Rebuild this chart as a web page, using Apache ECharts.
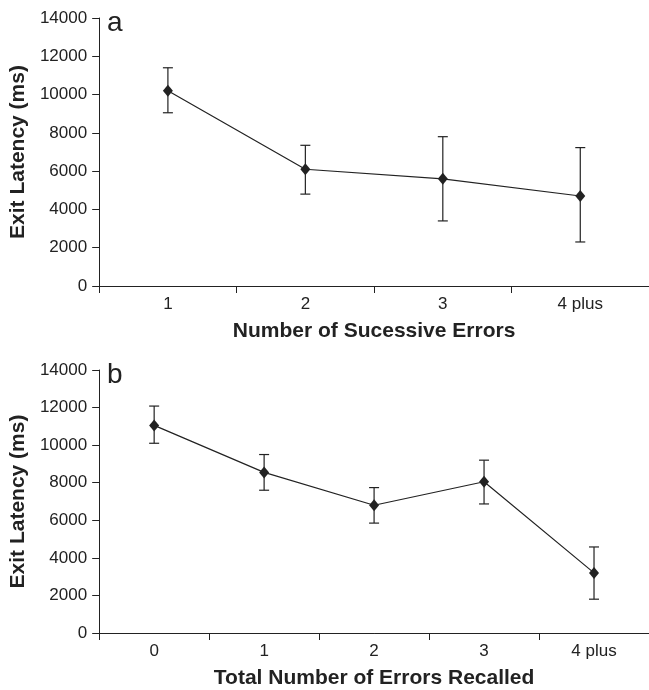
<!DOCTYPE html>
<html>
<head>
<meta charset="utf-8">
<script src="https://cdn.jsdelivr.net/npm/echarts@6/dist/echarts.min.js"></script>
<style>
  html, body { margin: 0; padding: 0; background: #fff; }
  #chart { width: 649px; height: 690px; }
</style>
</head>
<body>
<div id="chart"></div>
<script>
// panel a: successive errors
var catsA = ['1', '2', '3', '4 plus'];
var meanA = [10200, 6100, 5600, 4700];
var lowA = [9050, 4800, 3400, 2300];
var highA = [11400, 7350, 7800, 7230];

// panel b: errors recalled
var catsB = ['0', '1', '2', '3', '4 plus'];
var meanB = [11050, 8550, 6800, 8050, 3200];
var lowB = [10100, 7600, 5850, 6870, 1800];
var highB = [12080, 9500, 7740, 9200, 4580];

var yTicks = [0, 2000, 4000, 6000, 8000, 10000, 12000, 14000];

var FONT = 'Liberation Sans';
var INK = '#222';

// error bar: vertical line + caps
function errRender(params, api) {
  var x = api.value(0);
  var lo = api.coord([x, api.value(1)]);
  var hi = api.coord([x, api.value(2)]);
  var w = 5;
  var st = { stroke: INK, lineWidth: 1.2 };
  return {
    type: 'group',
    children: [
      { type: 'line', shape: { x1: lo[0], y1: lo[1], x2: hi[0], y2: hi[1] }, style: st },
      { type: 'line', shape: { x1: lo[0] - w, y1: lo[1], x2: lo[0] + w, y2: lo[1] }, style: st },
      { type: 'line', shape: { x1: hi[0] - w, y1: hi[1], x2: hi[0] + w, y2: hi[1] }, style: st }
    ]
  };
}

function xAx(idx, cats, name) {
  return {
    type: 'category', gridIndex: idx, data: cats, name: name,
    nameLocation: 'middle', nameGap: 35,
    nameTextStyle: { fontFamily: FONT, fontSize: 21, fontWeight: 'bold', color: INK },
    axisLine: { lineStyle: { color: INK, width: 1 } },
    axisTick: { show: true, length: 7, lineStyle: { color: INK } },
    axisLabel: { fontFamily: FONT, fontSize: 17, color: INK, margin: 10 },
    splitLine: { show: false }
  };
}

function yAx(idx) {
  return {
    type: 'value', gridIndex: idx, min: yTicks[0], max: yTicks[yTicks.length - 1],
    interval: yTicks[1] - yTicks[0],
    name: 'Exit Latency (ms)', nameLocation: 'middle', nameGap: 70,
    nameTextStyle: { fontFamily: FONT, fontSize: 21, fontWeight: 'bold', color: INK },
    axisLine: { show: true, lineStyle: { color: INK, width: 1 } },
    axisTick: { show: true, length: 7, lineStyle: { color: INK } },
    axisLabel: { fontFamily: FONT, fontSize: 17, color: INK, margin: 12,
      formatter: function (v) { return String(v); } },
    splitLine: { show: false }
  };
}

function errData(lo, hi) {
  return lo.map(function (v, i) { return [i, v, hi[i]]; });
}

var chart = echarts.init(document.getElementById('chart'));
chart.setOption({
  animation: false,
  backgroundColor: '#fff',
  grid: [
    { left: 98, top: 18, width: 551, height: 268 },
    { left: 98, top: 370, width: 551, height: 268 }
  ],
  graphic: [
    { type: 'text', left: 107, top: 9, style: { text: 'a', font: '28px "Liberation Sans"', fill: INK } },
    { type: 'text', left: 107, top: 361, style: { text: 'b', font: '28px "Liberation Sans"', fill: INK } }
  ],
  xAxis: [xAx(0, catsA, 'Number of Sucessive Errors'), xAx(1, catsB, 'Total Number of Errors Recalled')],
  yAxis: [yAx(0), yAx(1)],
  series: [
    {
      type: 'custom', xAxisIndex: 0, yAxisIndex: 0, renderItem: errRender,
      data: errData(lowA, highA), encode: { x: 0, y: [1, 2] }, z: 1
    },
    {
      type: 'line', xAxisIndex: 0, yAxisIndex: 0, data: meanA,
      symbol: 'diamond', symbolSize: [10, 12],
      lineStyle: { color: INK, width: 1.2 }, itemStyle: { color: INK }, z: 2
    },
    {
      type: 'custom', xAxisIndex: 1, yAxisIndex: 1, renderItem: errRender,
      data: errData(lowB, highB), encode: { x: 0, y: [1, 2] }, z: 1
    },
    {
      type: 'line', xAxisIndex: 1, yAxisIndex: 1, data: meanB,
      symbol: 'diamond', symbolSize: [10, 12],
      lineStyle: { color: INK, width: 1.2 }, itemStyle: { color: INK }, z: 2
    }
  ]
});
</script>
</body>
</html>
